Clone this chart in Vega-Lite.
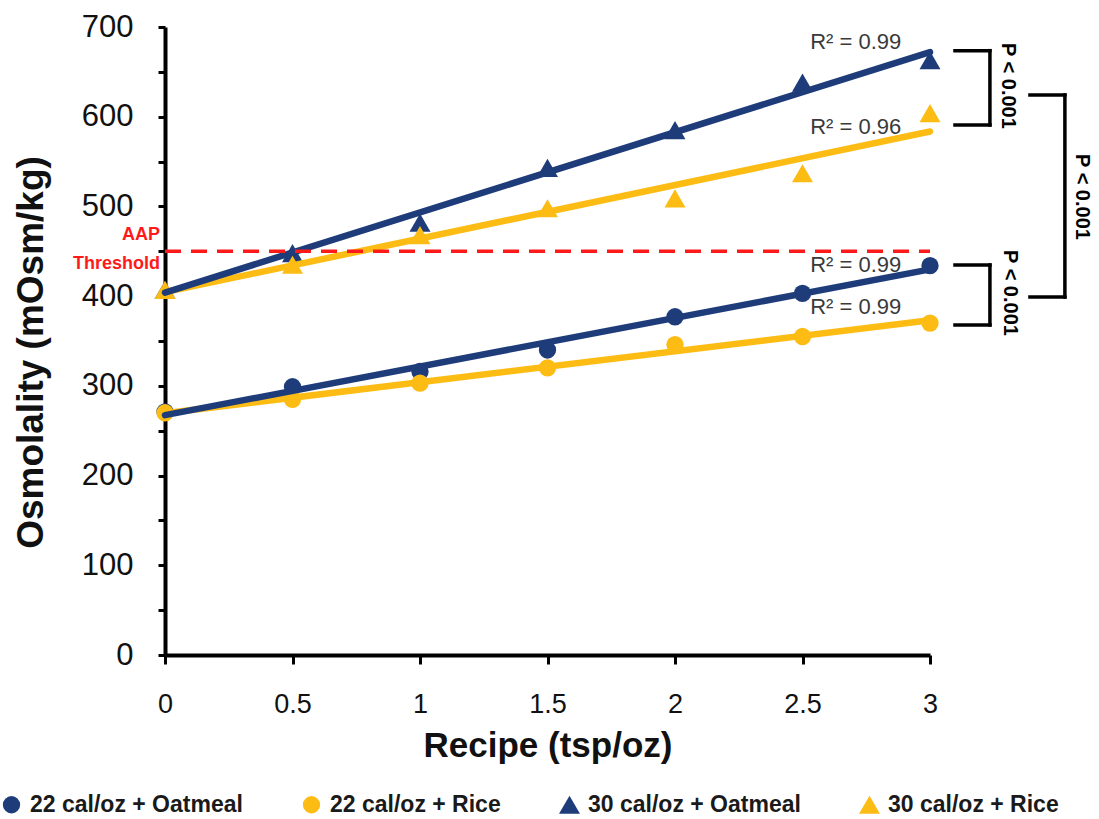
{
  "$schema": "https://vega.github.io/schema/vega-lite/v6.json",
  "width": 765,
  "height": 628,
  "autosize": {"type": "none"},
  "padding": {"left": 165, "top": 27, "right": 169, "bottom": 164},
  "background": "white",
  "config": {
    "font": "Liberation Sans",
    "view": {"stroke": null},
    "legend": {
      "title": null,
      "orient": "none",
      "direction": "horizontal",
      "columns": 4,
      "columnPadding": 57,
      "legendX": -165,
      "legendY": 766,
      "labelFontSize": 23,
      "labelFontWeight": "bold",
      "labelColor": "#1a1a1a",
      "labelOffset": 7,
      "labelLimit": 400,
      "symbolStrokeWidth": 0
    }
  },
  "datasets": {
    "points": [
      {"series": "22 cal/oz + Oatmeal", "x": 0, "y": 271},
      {"series": "22 cal/oz + Oatmeal", "x": 0.5, "y": 299},
      {"series": "22 cal/oz + Oatmeal", "x": 1, "y": 316},
      {"series": "22 cal/oz + Oatmeal", "x": 1.5, "y": 340},
      {"series": "22 cal/oz + Oatmeal", "x": 2, "y": 377},
      {"series": "22 cal/oz + Oatmeal", "x": 2.5, "y": 403},
      {"series": "22 cal/oz + Oatmeal", "x": 3, "y": 434},
      {"series": "22 cal/oz + Rice", "x": 0, "y": 270},
      {"series": "22 cal/oz + Rice", "x": 0.5, "y": 285},
      {"series": "22 cal/oz + Rice", "x": 1, "y": 303},
      {"series": "22 cal/oz + Rice", "x": 1.5, "y": 320},
      {"series": "22 cal/oz + Rice", "x": 2, "y": 346},
      {"series": "22 cal/oz + Rice", "x": 2.5, "y": 355},
      {"series": "22 cal/oz + Rice", "x": 3, "y": 370},
      {"series": "30 cal/oz + Oatmeal", "x": 0, "y": 407},
      {"series": "30 cal/oz + Oatmeal", "x": 0.5, "y": 448},
      {"series": "30 cal/oz + Oatmeal", "x": 1, "y": 482},
      {"series": "30 cal/oz + Oatmeal", "x": 1.5, "y": 543},
      {"series": "30 cal/oz + Oatmeal", "x": 2, "y": 585},
      {"series": "30 cal/oz + Oatmeal", "x": 2.5, "y": 638},
      {"series": "30 cal/oz + Oatmeal", "x": 3, "y": 663},
      {"series": "30 cal/oz + Rice", "x": 0, "y": 407},
      {"series": "30 cal/oz + Rice", "x": 0.5, "y": 435},
      {"series": "30 cal/oz + Rice", "x": 1, "y": 468},
      {"series": "30 cal/oz + Rice", "x": 1.5, "y": 498},
      {"series": "30 cal/oz + Rice", "x": 2, "y": 509},
      {"series": "30 cal/oz + Rice", "x": 2.5, "y": 537},
      {"series": "30 cal/oz + Rice", "x": 3, "y": 604}
    ],
    "r2": [
      {"x": 2.53, "y": 683, "label": "R² = 0.99"},
      {"x": 2.53, "y": 588.6, "label": "R² = 0.96"},
      {"x": 2.53, "y": 434.7, "label": "R² = 0.99"},
      {"x": 2.53, "y": 387.9, "label": "R² = 0.99"}
    ],
    "threshold": [
      {"x": 0, "x2": 3, "y": 450}
    ],
    "aap": [
      {"x": 0, "y": 468, "label": "AAP"},
      {"x": 0, "y": 436, "label": "Threshold"}
    ],
    "brackets": [
      {"x": 3.235, "x2": 3.235, "y": 673.6, "y2": 590.8},
      {"x": 3.098, "x2": 3.235, "y": 673.6, "y2": 673.6},
      {"x": 3.098, "x2": 3.235, "y": 590.8, "y2": 590.8},
      {"x": 3.529, "x2": 3.529, "y": 624.2, "y2": 399},
      {"x": 3.392, "x2": 3.529, "y": 624.2, "y2": 624.2},
      {"x": 3.392, "x2": 3.529, "y": 399, "y2": 399},
      {"x": 3.235, "x2": 3.235, "y": 434.7, "y2": 367.9},
      {"x": 3.098, "x2": 3.235, "y": 434.7, "y2": 434.7},
      {"x": 3.098, "x2": 3.235, "y": 367.9, "y2": 367.9}
    ],
    "ptext": [
      {"x": 3.306, "y": 634.3, "label": "P < 0.001"},
      {"x": 3.596, "y": 510.5, "label": "P < 0.001"},
      {"x": 3.314, "y": 403.5, "label": "P < 0.001"}
    ]
  },
  "encoding": {
    "x": {
      "field": "x",
      "type": "quantitative",
      "scale": {"domain": [0, 3], "nice": false, "zero": false},
      "axis": {
        "title": "Recipe (tsp/oz)",
        "values": [0, 0.5, 1, 1.5, 2, 2.5, 3],
        "format": "~g",
        "grid": false,
        "domainColor": "black",
        "domainWidth": 4,
        "tickColor": "black",
        "tickWidth": 3,
        "tickSize": 9,
        "labelFontSize": 27,
        "labelColor": "#111111",
        "labelPadding": 27,
        "labelFlush": false,
        "titleFontSize": 35,
        "titleFontWeight": "bold",
        "titleColor": "#111111",
        "titlePadding": 11
      }
    },
    "y": {
      "field": "y",
      "type": "quantitative",
      "scale": {"domain": [0, 700], "nice": false, "zero": false},
      "axis": {
        "title": "Osmolality (mOsm/kg)",
        "values": [0, 50, 100, 150, 200, 250, 300, 350, 400, 450, 500, 550, 600, 650, 700],
        "labelExpr": "datum.value % 100 == 0 ? datum.label : ''",
        "grid": false,
        "domainColor": "black",
        "domainWidth": 4,
        "tickColor": "black",
        "tickWidth": 3,
        "tickSize": 7,
        "labelFontSize": 31,
        "labelColor": "#111111",
        "labelPadding": 25,
        "titleFontSize": 37,
        "titleFontWeight": "bold",
        "titleColor": "#111111",
        "titleAngle": -90,
        "titleBaseline": "middle",
        "titleAlign": "center",
        "titleX": -134,
        "titleY": 325
      }
    }
  },
  "layer": [
    {
      "data": {"name": "points"},
      "mark": {"type": "point", "filled": true, "opacity": 1},
      "encoding": {
        "color": {
          "field": "series",
          "type": "nominal",
          "title": null,
          "scale": {
            "domain": ["22 cal/oz + Oatmeal", "22 cal/oz + Rice", "30 cal/oz + Oatmeal", "30 cal/oz + Rice"],
            "range": ["#1f3c7a", "#fcbc14", "#1f3c7a", "#fcbc14"]
          }
        },
        "shape": {
          "field": "series",
          "type": "nominal",
          "title": null,
          "scale": {
            "domain": ["22 cal/oz + Oatmeal", "22 cal/oz + Rice", "30 cal/oz + Oatmeal", "30 cal/oz + Rice"],
            "range": ["circle", "circle", "triangle-up", "triangle-up"]
          }
        },
        "size": {
          "field": "series",
          "type": "ordinal",
          "title": null,
          "scale": {
            "type": "ordinal",
            "domain": ["22 cal/oz + Oatmeal", "22 cal/oz + Rice", "30 cal/oz + Oatmeal", "30 cal/oz + Rice"],
            "range": [300, 300, 440, 440]
          }
        }
      }
    },
    {
      "data": {"name": "points"},
      "transform": [
        {"filter": "indexof(datum.series, 'Rice') >= 0"},
        {"regression": "y", "on": "x", "groupby": ["series"], "extent": [0, 3]}
      ],
      "mark": {"type": "line", "color": "#fcbc14", "strokeWidth": 6.5, "strokeCap": "round"},
      "encoding": {"detail": {"field": "series", "type": "nominal"}}
    },
    {
      "data": {"name": "points"},
      "transform": [
        {"filter": "indexof(datum.series, 'Oatmeal') >= 0"},
        {"regression": "y", "on": "x", "groupby": ["series"], "extent": [0, 3]}
      ],
      "mark": {"type": "line", "color": "#1f3c7a", "strokeWidth": 6.5, "strokeCap": "round"},
      "encoding": {"detail": {"field": "series", "type": "nominal"}}
    },
    {
      "data": {"name": "threshold"},
      "mark": {"type": "rule", "color": "#ff1a1a", "strokeWidth": 3.5, "strokeDash": [16, 10]},
      "encoding": {"x2": {"field": "x2"}}
    },
    {
      "data": {"name": "r2"},
      "mark": {"type": "text", "align": "left", "baseline": "middle", "fontSize": 22, "color": "#3a3a3a"},
      "encoding": {"text": {"field": "label", "type": "nominal"}}
    },
    {
      "data": {"name": "aap"},
      "mark": {"type": "text", "align": "right", "baseline": "middle", "dx": -5, "fontSize": 18, "fontWeight": "bold", "color": "#ff1a1a"},
      "encoding": {"text": {"field": "label", "type": "nominal"}}
    },
    {
      "data": {"name": "brackets"},
      "mark": {"type": "rule", "color": "black", "strokeWidth": 3.5, "strokeCap": "square"},
      "encoding": {"x2": {"field": "x2"}, "y2": {"field": "y2"}}
    },
    {
      "data": {"name": "ptext"},
      "mark": {"type": "text", "align": "center", "baseline": "middle", "angle": 90, "fontSize": 20, "fontWeight": "bold", "color": "black"},
      "encoding": {"text": {"field": "label", "type": "nominal"}}
    }
  ]
}
